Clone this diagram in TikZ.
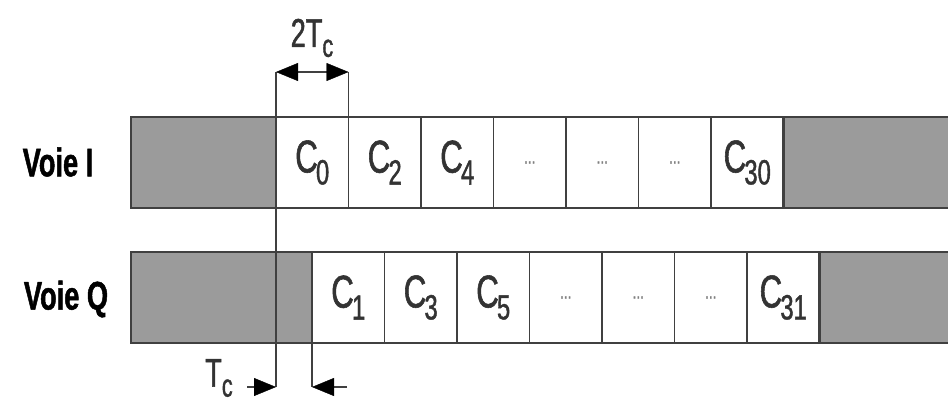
\documentclass[tikz,border=0pt]{standalone}
\usepackage{fontspec}
\setmainfont[FakeStretch=0.68, RawFeature={embolden=1.2}]{Liberation Sans}
\usetikzlibrary{arrows.meta}
\definecolor{blockgray}{HTML}{9B9B9B}
\definecolor{edgegray}{HTML}{404040}
\definecolor{txtgray}{HTML}{333333}
\newcommand{\chipC}[1]{C\kern-0.04em\raisebox{-0.26em}{\fontsize{17.5}{17.5}\selectfont #1}}
\newcommand{\tcsub}{T\raisebox{-0.25em}{\fontsize{16}{16}\selectfont c}}
\tikzset{
  block/.style={draw=edgegray, fill=blockgray, line width=1.1pt, anchor=north west,
    inner sep=0pt, outer sep=0pt, minimum height=45.5pt},
  cell/.style={draw=edgegray, fill=white, line width=0.8pt, anchor=north west,
    inner sep=0pt, outer sep=0pt, minimum width=36.25pt, minimum height=45.5pt,
    text=txtgray, font=\fontsize{23}{23}\selectfont},
  dots/.style={cell, font=\fontsize{10}{10}\selectfont, text=gray},
  lane/.style={font=\bfseries\fontsize{20}{20}\selectfont, text=black},
  dim/.style={font=\fontsize{20}{20}\selectfont, text=txtgray},
  thin/.style={draw=edgegray, line width=0.6pt},
  tip/.tip={Triangle[length=11pt,width=9pt,color=black,fill=black,line width=0.2pt]},
  arr/.style={thin, -tip},
  darr/.style={thin, tip-tip}
}
\begin{document}
\begin{tikzpicture}[x=0.5pt,y=-0.5pt]
\useasboundingbox (0,0) rectangle (948,402);
% Voie I row
\node[block, minimum width=72.5pt] (IL) at (131,117) {};
\node[cell] (I0) at (276,117) {\chipC{0}};
\node[cell] (I1) at (348.5,117) {\chipC{2}};
\node[cell] (I2) at (421,117) {\chipC{4}};
\node[dots] (I3) at (493.5,117) {...};
\node[dots] (I4) at (566,117) {...};
\node[dots] (I5) at (638.5,117) {...};
\node[cell] (I6) at (711,117) {\chipC{30}};
\node[block, minimum width=84pt] (IR) at (783.5,117) {};
% Voie Q row
\node[block, minimum width=90.5pt] (QL) at (131,252) {};
\node[cell] (Q0) at (312,252) {\chipC{1}};
\node[cell] (Q1) at (384.5,252) {\chipC{3}};
\node[cell] (Q2) at (457,252) {\chipC{5}};
\node[dots] (Q3) at (529.5,252) {...};
\node[dots] (Q4) at (602,252) {...};
\node[dots] (Q5) at (674.5,252) {...};
\node[cell] (Q6) at (747,252) {\chipC{31}};
\node[block, minimum width=66pt] (QR) at (819.5,252) {};
% lane labels
\node[lane] (lI) at (58,162) {Voie I};
\node[lane] (lQ) at (66,299) {Voie Q};
% timing marks
\coordinate (t0) at (276,72);
\coordinate (t1) at (348.5,72);
\coordinate (b0) at (276,387);
\coordinate (b1) at (312,387);
\coordinate (la) at (247,387);
\coordinate (ra) at (347,387);
\draw[thin] (t0) -- (b0);
\draw[thin] (t1) -- (I1.north west);
\draw[thin] (Q0.south west) -- (b1);
\draw[darr] (t0) -- (t1);
\draw[arr] (la) -- (b0);
\draw[arr] (ra) -- (b1);
\node[dim] (d2) at (312,38) {2\tcsub};
\node[dim] (d1) at (219,378) {\tcsub};
\end{tikzpicture}
\end{document}
